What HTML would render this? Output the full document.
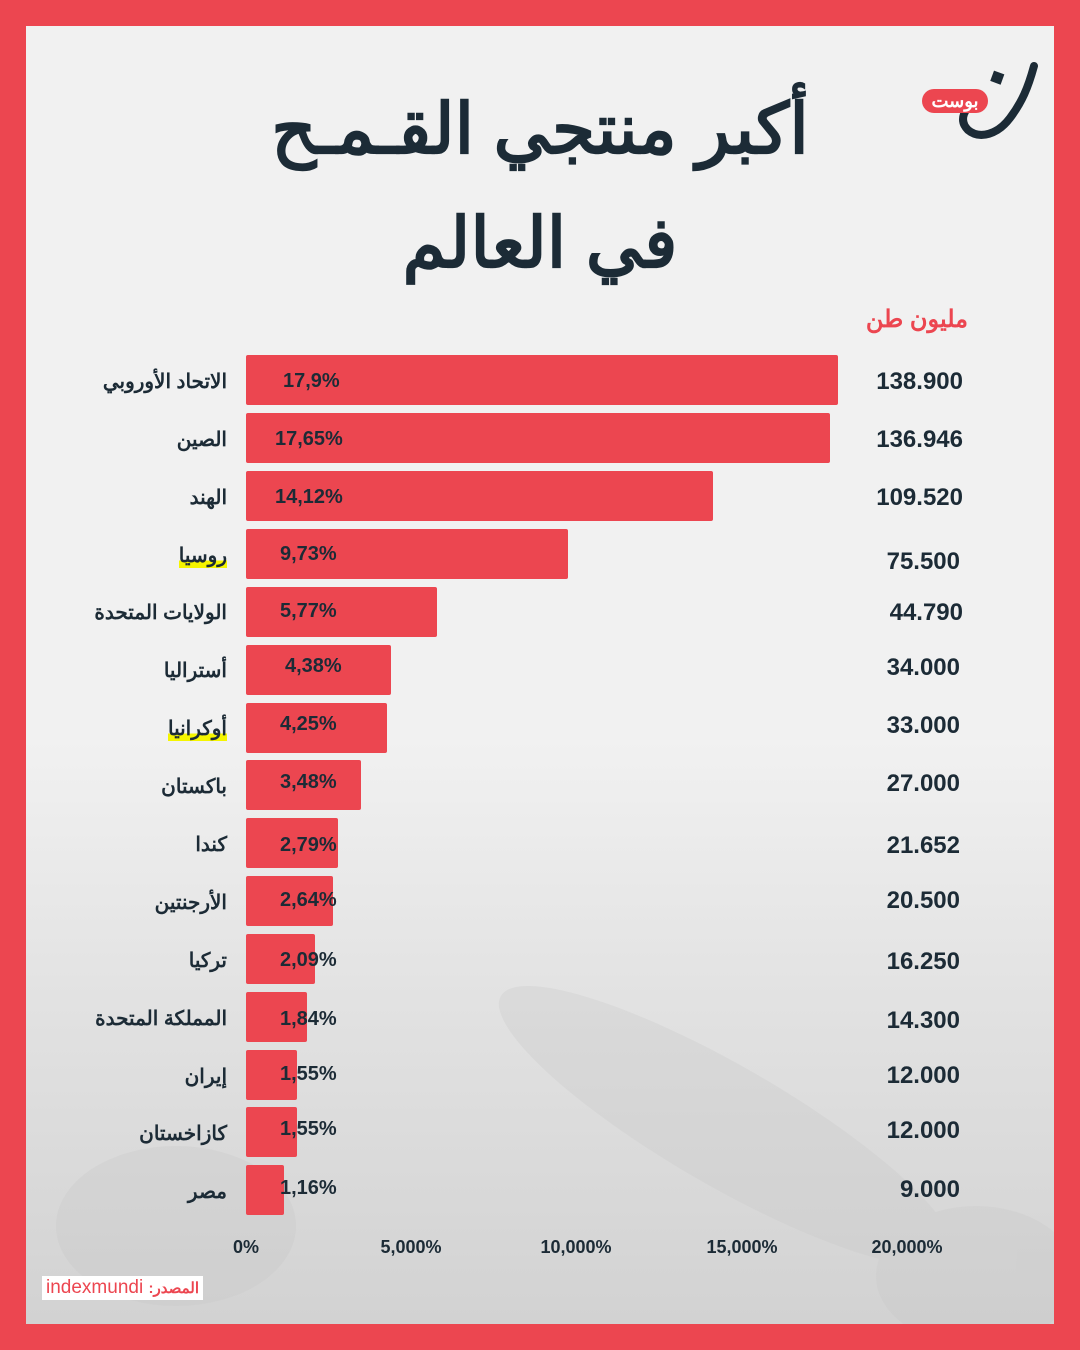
<!DOCTYPE html>
<html><head><meta charset="utf-8"><style>
body{margin:0;width:1080px;height:1350px;background:#ec4650;position:relative;overflow:hidden;font-family:"Liberation Sans","Noto Sans CJK SC",sans-serif}
#in{position:absolute;left:26px;top:26px;width:1028px;height:1298px;background:linear-gradient(#f1f1f1 0%,#f1f1f1 55%,#e2e2e2 75%,#d2d2d2 100%);overflow:hidden}
.t{position:absolute;color:#1c2b36;font-weight:bold;white-space:nowrap}
.bar{position:absolute;left:246px;height:50px;background:#ec4650;border-radius:2px}
.lab{position:absolute;right:853px;font-size:20px;font-weight:bold;color:#1c2b36;white-space:nowrap;direction:rtl}
.pct{position:absolute;font-size:20px;font-weight:bold;color:#1c2b36}
.val{position:absolute;right:117px;font-size:24px;font-weight:bold;color:#1c2b36}
.ax{position:absolute;top:1237px;font-size:18px;font-weight:bold;color:#1c2b36;transform:translateX(-50%)}
</style></head><body>
<div id="in">
<svg style="position:absolute;left:0;top:700px" width="1028" height="600"><g fill="#c8c8c8" opacity=".3"><ellipse cx="700" cy="400" rx="260" ry="60" transform="rotate(30 700 400)"/><ellipse cx="150" cy="500" rx="120" ry="80"/><ellipse cx="950" cy="550" rx="100" ry="70"/></g></svg>
</div>
<div class="t" style="left:0;width:1080px;text-align:center;top:88px;font-size:70px;direction:rtl">أكبر منتجي القـمـح</div>
<div class="t" style="left:0;width:1080px;text-align:center;top:202px;font-size:70px;direction:rtl">في العالم</div>
<svg style="position:absolute;left:950px;top:58px" width="95" height="90"><path d="M84 8 C78 30 72 44 60 60 C48 76 30 82 18 72 C8 62 14 50 28 40" fill="none" stroke="#1c2b36" stroke-width="8" stroke-linecap="round"/><rect x="42" y="14" width="11" height="11" fill="#1c2b36" transform="rotate(20 47 19)"/></svg>
<div style="position:absolute;left:922px;top:89px;width:66px;height:24px;background:#ec4650;border-radius:12px;color:#fff;font-weight:bold;font-size:18px;text-align:center;line-height:24px">بوست</div>
<div class="t" style="right:112px;top:305px;font-size:24px;color:#ec4650;direction:rtl">مليون طن</div>

<div class="bar" style="top:355px;width:592px"></div><div class="lab" style="top:369px">الاتحاد الأوروبي</div><div class="pct" style="left:283px;top:370px">17,9%</div><div class="val" style="top:368px">138.900</div>
<div class="bar" style="top:413px;width:584px"></div><div class="lab" style="top:427px">الصين</div><div class="pct" style="left:275px;top:428px">17,65%</div><div class="val" style="top:426px">136.946</div>
<div class="bar" style="top:471px;width:467px"></div><div class="lab" style="top:485px">الهند</div><div class="pct" style="left:275px;top:486px">14,12%</div><div class="val" style="top:484px">109.520</div>
<div class="bar" style="top:529px;width:322px"></div><div class="lab" style="top:543px;background:linear-gradient(transparent 70%,#f5f500 70%)">روسيا</div><div class="pct" style="left:280px;top:543px">9,73%</div><div class="val" style="top:548px;right:120px">75.500</div>
<div class="bar" style="top:587px;width:191px"></div><div class="lab" style="top:600px">الولايات المتحدة</div><div class="pct" style="left:280px;top:600px">5,77%</div><div class="val" style="top:599px">44.790</div>
<div class="bar" style="top:645px;width:145px"></div><div class="lab" style="top:658px">أستراليا</div><div class="pct" style="left:285px;top:655px">4,38%</div><div class="val" style="top:654px;right:120px">34.000</div>
<div class="bar" style="top:703px;width:141px"></div><div class="lab" style="top:716px;background:linear-gradient(transparent 70%,#f5f500 70%)">أوكرانيا</div><div class="pct" style="left:280px;top:713px">4,25%</div><div class="val" style="top:712px;right:120px">33.000</div>
<div class="bar" style="top:760px;width:115px"></div><div class="lab" style="top:774px">باكستان</div><div class="pct" style="left:280px;top:771px">3,48%</div><div class="val" style="top:770px;right:120px">27.000</div>
<div class="bar" style="top:818px;width:92px"></div><div class="lab" style="top:832px">كندا</div><div class="pct" style="left:280px;top:834px">2,79%</div><div class="val" style="top:832px;right:120px">21.652</div>
<div class="bar" style="top:876px;width:87px"></div><div class="lab" style="top:890px">الأرجنتين</div><div class="pct" style="left:280px;top:889px">2,64%</div><div class="val" style="top:887px;right:120px">20.500</div>
<div class="bar" style="top:934px;width:69px"></div><div class="lab" style="top:948px">تركيا</div><div class="pct" style="left:280px;top:949px">2,09%</div><div class="val" style="top:948px;right:120px">16.250</div>
<div class="bar" style="top:992px;width:61px"></div><div class="lab" style="top:1006px">المملكة المتحدة</div><div class="pct" style="left:280px;top:1008px">1,84%</div><div class="val" style="top:1007px;right:120px">14.300</div>
<div class="bar" style="top:1050px;width:51px"></div><div class="lab" style="top:1064px">إيران</div><div class="pct" style="left:280px;top:1063px">1,55%</div><div class="val" style="top:1062px;right:120px">12.000</div>
<div class="bar" style="top:1107px;width:51px"></div><div class="lab" style="top:1121px">كازاخستان</div><div class="pct" style="left:280px;top:1118px">1,55%</div><div class="val" style="top:1117px;right:120px">12.000</div>
<div class="bar" style="top:1165px;width:38px"></div><div class="lab" style="top:1179px">مصر</div><div class="pct" style="left:280px;top:1177px">1,16%</div><div class="val" style="top:1176px;right:120px">9.000</div>

<div class="ax" style="left:246px">0%</div>
<div class="ax" style="left:411px">5,000%</div>
<div class="ax" style="left:576px">10,000%</div>
<div class="ax" style="left:742px">15,000%</div>
<div class="ax" style="left:907px">20,000%</div>
<div style="position:absolute;left:42px;top:1276px;background:#fff;color:#ec4650;font-size:19px;padding:0 4px;height:24px;line-height:24px;white-space:nowrap">indexmundi <span style="font-size:15px;font-weight:bold">:المصدر</span></div>
</body></html>
